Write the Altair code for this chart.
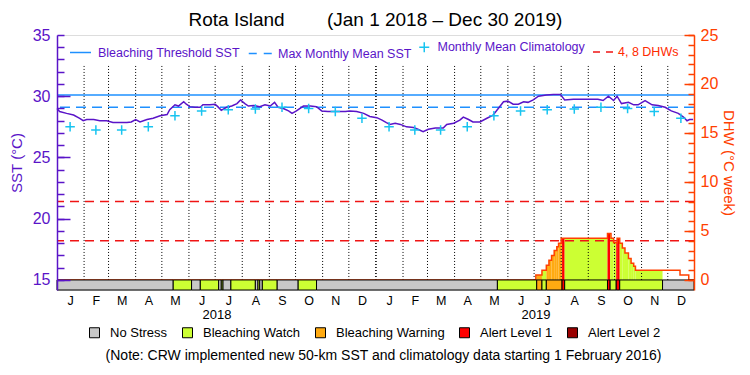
import altair as alt
import pandas as pd

# ---------------- values ----------------
# daily SST (day index from Jan 1 2018), read at breakpoints
sst_days = [0, 3, 11, 19, 26, 30, 34, 42, 49, 57, 64, 72, 80, 85, 90, 95, 103, 110, 118, 126,
            129, 135, 139, 145, 148, 152, 158, 164, 167, 175, 181, 184, 188, 194, 200, 206, 210,
            215, 219, 225, 232, 238, 244, 249, 253, 259, 265, 269, 274, 282, 290, 297, 303, 310,
            320, 330, 335, 343, 351, 358, 366, 372, 377, 381, 387, 393, 400, 408, 413, 419, 425,
            433, 442, 446, 454, 461, 465, 471, 476, 484, 492, 499, 505, 511, 516, 522, 528, 534,
            539, 545, 551, 560, 568, 576, 581, 591, 599, 610, 619, 625, 631, 637, 641, 646, 654,
            660, 665, 673, 681, 688, 696, 703, 711, 717, 721, 724, 728]
sst_values = [29.0, 28.75, 28.6, 28.47, 28.2, 28.0, 28.1, 28.1, 28.0, 28.0, 27.85, 27.85, 27.85,
              27.9, 28.1, 27.9, 28.1, 28.2, 28.4, 28.5, 28.9, 29.3, 29.2, 29.55, 29.35, 29.15,
              29.1, 29.1, 29.3, 29.3, 29.35, 29.15, 28.85, 29.1, 29.2, 29.4, 29.7, 29.4, 29.2,
              29.25, 29.15, 29.3, 29.2, 29.5, 29.1, 29.0, 28.8, 28.6, 28.8, 29.2, 29.2, 29.15,
              28.8, 28.75, 28.75, 28.75, 28.8, 28.75, 28.6, 28.35, 28.25, 28.05, 27.85, 27.7,
              27.8, 27.7, 27.5, 27.45, 27.3, 27.1, 27.3, 27.4, 27.4, 27.7, 27.8, 28.05, 28.3,
              28.1, 27.9, 27.9, 28.2, 28.45, 29.0, 29.55, 29.6, 29.35, 29.35, 29.55, 29.5, 29.7,
              30.0, 30.1, 30.15, 30.15, 29.7, 29.75, 29.75, 29.75, 29.75, 29.65, 30.0, 29.65,
              30.0, 29.4, 29.5, 29.3, 29.3, 29.65, 29.3, 29.25, 29.1, 28.8, 28.6, 28.3, 28.0,
              28.1, 28.1]

# monthly mean climatology (Jan..Dec), repeated each year
clim_values = [27.5, 27.25, 27.25, 27.5, 28.4, 28.8, 28.9, 28.95, 29.1, 29.0, 28.75, 28.2]

bleaching_threshold = [30.1]
max_monthly_mean = [29.1]
dhw_levels = [4, 8]

# degree heating weeks, step values starting at these days
dhw_days = [0, 548, 555, 560, 563, 566, 569, 572, 574, 577, 630, 634, 637, 641, 644, 647, 650,
            654, 657, 660, 662, 713, 723]
dhw_values = [0, 0.5, 1.0, 1.5, 2.0, 2.5, 3.0, 3.4, 3.75, 4.25, 4.75, 4.25, 3.8, 4.25, 3.75,
              3.25, 2.75, 2.2, 1.7, 1.4, 1.0, 0.5, 0.0]

# bleaching alert stress level, segments starting at these days
stress_starts = [0, 133, 154, 164, 185, 188, 190, 199, 227, 230, 232, 235, 252, 276, 297, 504,
                 549, 555, 560, 578, 581, 630, 633, 640, 644, 693]
stress_levels = ["No Stress", "Bleaching Watch", "No Stress", "Bleaching Watch", "No Stress",
                 "Bleaching Watch", "No Stress", "Bleaching Watch", "No Stress", "Bleaching Watch",
                 "No Stress", "Bleaching Watch", "No Stress", "Bleaching Watch", "No Stress",
                 "Bleaching Watch", "Bleaching Warning", "Bleaching Watch", "Bleaching Warning",
                 "Alert Level 1", "Bleaching Watch", "Alert Level 1", "Bleaching Watch",
                 "Alert Level 1", "Bleaching Watch", "No Stress"]

level_names = ["No Stress", "Bleaching Watch", "Bleaching Warning", "Alert Level 1", "Alert Level 2"]
level_colors = ["#C8C8C8", "#CCFF33", "#FFAA11", "#FF0000", "#990000"]

month_letters = ["J", "F", "M", "A", "M", "J", "J", "A", "S", "O", "N", "D"]
year_labels = ["2018", "2019"]

title_text = "Rota Island" + "\u00a0" * 8 + "(Jan 1 2018 \u2013 Dec 30 2019)"
note_text = "(Note: CRW implemented new 50-km SST and climatology data starting 1 February 2016)"

# ---------------- styling ----------------
FONT = "Liberation Sans"
PURPLE = "#5A14C8"
ORANGE = "#FF4000"
BLUE = "#1E90FF"
CYAN = "#18C4F0"
RED = "#F01414"
PLUS = "M-1,0L1,0M0,-1L0,1"

n_days = 729
base = pd.Timestamp("2018-01-01")
month_starts = pd.date_range("2018-01-01", periods=24, freq="MS")
month_start_days = [(d - base).days for d in month_starts]
month_mid_days = [(d - base).days + d.days_in_month / 2 - 0.5 for d in month_starts]
year_mid_days = [182.5, 547.5]

SST_MIN, SST_MAX = 14.18, 35
DHW_MIN, DHW_MAX = (SST_MIN - 15) * 1.25, 25
sst_scale = alt.Scale(domain=[SST_MIN, SST_MAX], nice=False, zero=False)
dhw_scale = alt.Scale(domain=[DHW_MIN, DHW_MAX], nice=False, zero=False)
x_scale = alt.Scale(domain=[0, n_days], nice=False, zero=False)

# ---------------- tables ----------------
sst_df = pd.DataFrame({"day": sst_days, "sst": sst_values})
clim_df = pd.DataFrame({"day": month_mid_days, "sst": clim_values * 2,
                        "name": "Monthly Mean Climatology"})
grid_df = pd.DataFrame({"day": month_start_days[1:], "lo": 15.0, "hi": 32.55,
                        "w": [1.6 if d == 365 else 1.0 for d in month_start_days[1:]]})

stress_ends = stress_starts[1:] + [n_days]
stress_df = pd.DataFrame({"x": stress_starts, "x2": stress_ends, "level": stress_levels,
                          "lo": DHW_MIN, "hi": 0.0})


def dhw_at(d):
    v = 0
    for s, val in zip(dhw_days, dhw_values):
        if s <= d:
            v = val
    return v


def level_at(d):
    lv = stress_levels[0]
    for s, l in zip(stress_starts, stress_levels):
        if s <= d:
            lv = l
    return lv


bps = sorted(set(dhw_days + stress_starts + [n_days]))
fill_rows = []
for a, b in zip(bps[:-1], bps[1:]):
    v = dhw_at(a)
    lv = level_at(a)
    if v > 0 and lv != "No Stress":
        fill_rows.append({"x": a, "x2": b, "lo": 0.0, "v": v, "level": lv})
fill_df = pd.DataFrame(fill_rows)

first_nz = next(i for i, v in enumerate(dhw_values) if v > 0)
line_days = dhw_days[first_nz - 1:] + [n_days]
line_vals = dhw_values[first_nz - 1:] + [dhw_values[-1]]
dhw_line_df = pd.DataFrame({"day": line_days, "dhw": line_vals})

# ---------------- axes ----------------
month_axis = alt.Axis(orient="bottom", values=month_mid_days,
                      labelExpr=f"{month_letters}[floor((datum.value % 365) / 30.42)]",
                      ticks=False, domain=False, grid=False, labelFontSize=12.5,
                      labelColor="black", labelPadding=4, title=None, labelFont=FONT)
year_axis = alt.Axis(orient="bottom", values=year_mid_days,
                     labelExpr=f"{year_labels}[floor(datum.value / 365)]",
                     ticks=False, domain=False, grid=False, labelFontSize=13,
                     labelColor="black", labelPadding=18, labelFont=FONT,
                     title=note_text, titleFontSize=14, titleFontWeight="normal",
                     titleColor="black", titlePadding=27, titleFont=FONT, titleX=326)

left_axis = alt.Axis(orient="left", values=[15, 20, 25, 30, 35], ticks=False, domain=True,
                     domainColor=PURPLE, domainWidth=1.5, labelColor=PURPLE, labelFontSize=16,
                     labelPadding=7, grid=False, title="SST (\u00b0C)", titleColor=PURPLE,
                     titleFontSize=15, titleFontWeight="normal", titlePadding=8, zindex=1,
                     labelFont=FONT, titleFont=FONT)
left_minor = alt.Axis(orient="left", values=list(range(15, 36)), labels=False, domain=False,
                      ticks=True, tickSize=7, tickColor=PURPLE, tickWidth=1.5, offset=-7,
                      grid=False, title=None, zindex=1)
left_major = alt.Axis(orient="left", values=[15, 20, 25, 30], labels=False, domain=False,
                      ticks=True, tickSize=13, tickColor=PURPLE, tickWidth=1.5, offset=-13,
                      grid=False, title=None, zindex=1)

right_axis = alt.Axis(orient="right", values=[0, 5, 10, 15, 20, 25], ticks=False, domain=True,
                      domainColor=ORANGE, domainWidth=1.5, labelColor=ORANGE, labelFontSize=16,
                      labelPadding=6, grid=False, title="DHW (\u00b0C week)", titleColor=ORANGE,
                      titleFontSize=15, titleFontWeight="normal", titlePadding=3, titleAngle=90,
                      zindex=1, labelFont=FONT, titleFont=FONT)
right_minor = alt.Axis(orient="right", values=list(range(0, 26)), labels=False, domain=False,
                       ticks=True, tickSize=6, tickColor=ORANGE, tickWidth=1.5, offset=-6,
                       grid=False, title=None, zindex=1)
right_major = alt.Axis(orient="right", values=[0, 5, 10, 15, 20, 25], labels=False,
                       domain=False, ticks=True, tickSize=10, tickColor=ORANGE, tickWidth=1.5,
                       offset=-10, grid=False, title=None, zindex=1)


def top_legend(x, y, symbol, size, dash, label_color, offset):
    kw = dict(orient="none", legendX=x, legendY=y, title=None, symbolType=symbol,
              symbolSize=size, symbolStrokeWidth=1.5, labelColor=label_color,
              labelFontSize=12.5, labelFont=FONT, labelOffset=offset, padding=0)
    if dash:
        kw["symbolDash"] = dash
    return alt.Legend(**kw)


LEG_Y = 6

# ---------------- layers ----------------
fill = alt.Chart(fill_df).mark_rect(strokeWidth=0).encode(
    x=alt.X("x:Q", scale=x_scale, axis=None), x2="x2:Q",
    y=alt.Y("lo:Q", scale=dhw_scale, axis=right_major), y2="v:Q",
    color=alt.Color("level:N", scale=alt.Scale(domain=level_names, range=level_colors),
                    legend=None))

grid = alt.Chart(grid_df).mark_rule(color="black", strokeDash=[1, 2]).encode(
    x=alt.X("day:Q", scale=x_scale, axis=month_axis),
    y=alt.Y("lo:Q", scale=sst_scale, axis=left_axis), y2="hi:Q",
    strokeWidth=alt.StrokeWidth("w:Q", scale=None))

dhw_rules = alt.Chart(pd.DataFrame({"v": dhw_levels, "name": "4, 8 DHWs"})).mark_rule(
    strokeDash=[9, 6], strokeWidth=1.5).encode(
    y=alt.Y("v:Q", scale=dhw_scale, axis=right_minor),
    color=alt.Color("name:N", scale=alt.Scale(domain=["4, 8 DHWs"], range=[RED]),
                    legend=top_legend(535, LEG_Y, "stroke", 400, [7, 6], "#FF2A00", 4)))

thr = alt.Chart(pd.DataFrame({"v": bleaching_threshold, "name": "Bleaching Threshold SST"})
                ).mark_rule(strokeWidth=1.5).encode(
    y=alt.Y("v:Q", scale=sst_scale, axis=left_minor),
    color=alt.Color("name:N", scale=alt.Scale(domain=["Bleaching Threshold SST"], range=[BLUE]),
                    legend=top_legend(12, LEG_Y, "stroke", 441, None, PURPLE, 6)))

mmm_l = alt.Chart(pd.DataFrame({"v": max_monthly_mean, "name": "Max Monthly Mean SST"})
                  ).mark_rule(strokeWidth=1.5, strokeDash=[10, 6]).encode(
    y=alt.Y("v:Q", scale=sst_scale, axis=left_major),
    color=alt.Color("name:N", scale=alt.Scale(domain=["Max Monthly Mean SST"], range=[BLUE]),
                    legend=top_legend(191, LEG_Y, "stroke", 552, [8, 7], PURPLE, 5)))

outline = alt.Chart(dhw_line_df).mark_line(color=ORANGE, strokeWidth=1.5,
                                           interpolate="step-after").encode(
    x=alt.X("day:Q", scale=x_scale, axis=None),
    y=alt.Y("dhw:Q", scale=dhw_scale, axis=right_axis))

sst_line = alt.Chart(sst_df).mark_line(color=PURPLE, strokeWidth=1.5).encode(
    x=alt.X("day:Q", scale=x_scale, axis=year_axis),
    y=alt.Y("sst:Q", scale=sst_scale, axis=None))

clim = alt.Chart(clim_df).mark_point(shape=PLUS, filled=False, size=90, strokeWidth=1.5,
                                     opacity=1).encode(
    x=alt.X("day:Q", scale=x_scale, axis=None),
    y=alt.Y("sst:Q", scale=sst_scale, axis=None),
    color=alt.Color("name:N", scale=alt.Scale(domain=["Monthly Mean Climatology"], range=[CYAN]),
                    legend=top_legend(361, LEG_Y, PLUS, 100, None, PURPLE, 7)))

stress = alt.Chart(stress_df).mark_rect(stroke="black", strokeWidth=1).encode(
    x=alt.X("x:Q", scale=x_scale, axis=None), x2="x2:Q",
    y=alt.Y("lo:Q", scale=dhw_scale, axis=None), y2="hi:Q",
    color=alt.Color("level:N", scale=alt.Scale(domain=level_names, range=level_colors),
                    legend=alt.Legend(orient="none", direction="horizontal", legendX=31,
                                      legendY=291, title=None, symbolType="square",
                                      symbolSize=100, symbolStrokeColor="black",
                                      symbolStrokeWidth=1, symbolOpacity=1, labelFontSize=13,
                                      labelFont=FONT, labelColor="black", labelOffset=9,
                                      columnPadding=12, padding=0)))

chart = alt.layer(fill, grid, dhw_rules, thr, mmm_l, outline, sst_line, clim, stress).resolve_scale(
    y="independent", color="independent").resolve_axis(
    x="independent", y="independent").resolve_legend(color="independent").properties(
    width=637, height=255,
    autosize=alt.AutoSizeParams(type="none"),
    padding={"left": 57, "top": 35, "right": 56, "bottom": 85},
    background="white",
    title=alt.TitleParams(title_text, fontSize=19, font=FONT, fontWeight=400,
                          color="black", offset=-3, frame="group", anchor="middle"),
).configure_view(stroke="black", strokeWidth=1).configure(font=FONT).configure_title(
    fontWeight=400)

chart.save("out.html", embed_options={"renderer": "svg", "actions": False})
